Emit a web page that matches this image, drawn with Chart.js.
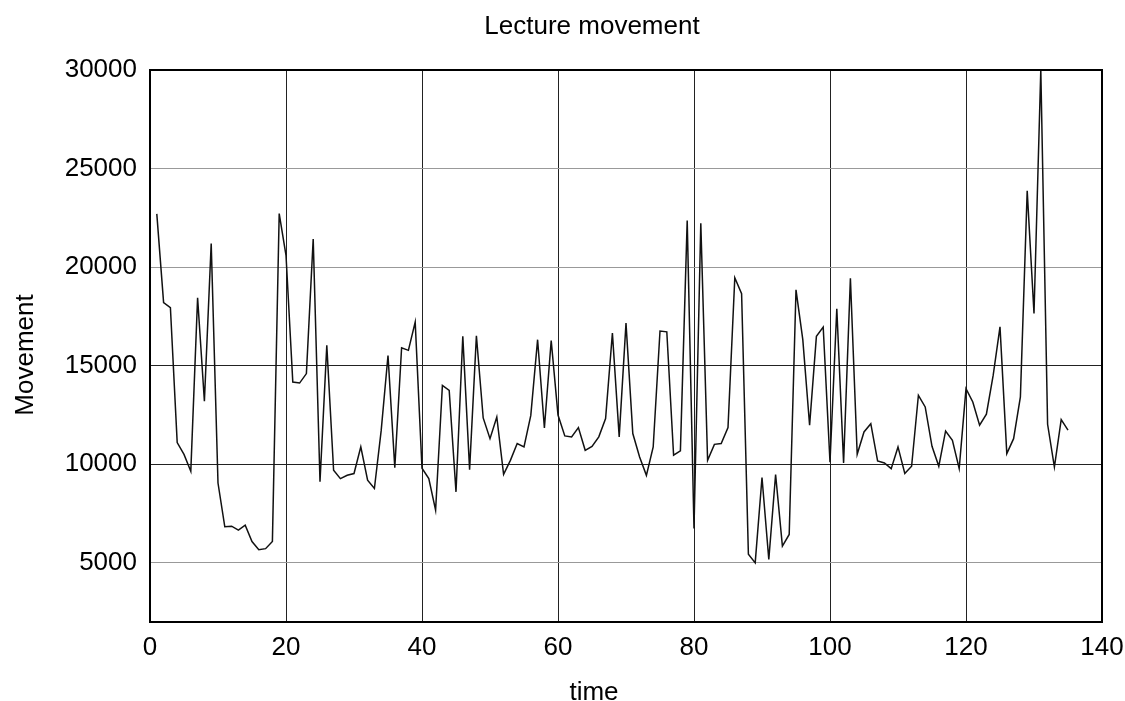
<!DOCTYPE html>
<html>
<head>
<meta charset="utf-8">
<title>Lecture movement</title>
<script src="https://cdn.jsdelivr.net/npm/chart.js@4.4.1/dist/chart.umd.min.js"></script>
<style>
  body { margin: 0; background: #fff; }
  #wrap { width: 1125px; height: 701px; }
</style>
</head>
<body>
<div id="wrap"><canvas id="myChart"></canvas></div>
<script>
// movement per time step (1..135)
const movement = [
  22700, 18200, 17950, 11100, 10500, 9650, 18450, 13200, 21200, 9050,
  6830, 6860, 6660, 6910, 6080, 5670, 5720, 6080, 22720, 20600,
  14170, 14120, 14600, 21430, 9110, 16030, 9700, 9270, 9440, 9530,
  10880, 9190, 8770, 11720, 15520, 9830, 15910, 15780, 17210, 9800,
  9275, 7670, 14000, 13750, 8600, 16490, 9730, 16520, 12350, 11300,
  12400, 9490, 10200, 11050, 10880, 12480, 16320, 11840, 16280, 12500,
  11440, 11390, 11860, 10710, 10910, 11390, 12320, 16660, 11390, 17160,
  11560, 10370, 9440, 10880, 16760, 16720, 10460, 10680, 22360, 6740,
  22230, 10200, 11010, 11050, 11860, 19460, 18650, 5440, 5000, 9330,
  5170, 9480, 5850, 6440, 18850, 16320, 11980, 16490, 16960, 10100,
  17890, 10070, 19440, 10510, 11640, 12060, 10170, 10070, 9780, 10880,
  9530, 9900, 13500, 12910, 10910, 9900, 11690, 11220, 9780, 13840,
  13160, 11980, 12540, 14520, 16970, 10540, 11300, 13420, 23870, 17650,
  30000, 12030, 9860, 12270, 11730
];
const time = movement.map((_, i) => i + 1);

const xTicks = [0, 20, 40, 60, 80, 100, 120, 140];
const yTicks = [5000, 10000, 15000, 20000, 25000, 30000];
const darkRows = [10000, 15000];

const font = 'Liberation Sans, Arial, Helvetica, sans-serif';

// frame around the plot + title texts placed like the original
const framePlugin = {
  id: 'frame',
  afterDraw(chart) {
    const c = chart.ctx;
    const a = chart.chartArea;
    c.save();
    c.strokeStyle = '#000';
    c.lineWidth = 2;
    c.strokeRect(a.left, a.top, a.right - a.left, a.bottom - a.top);
    c.fillStyle = '#000';
    c.font = '26px ' + font;
    c.textAlign = 'center';
    c.textBaseline = 'alphabetic';
    c.fillText('Lecture movement', 592, 34);
    c.fillText('time', 594, 700);
    c.translate(33, 355);
    c.rotate(-Math.PI / 2);
    c.fillText('Movement', 0, 0);
    c.restore();
  }
};

new Chart(document.getElementById('myChart'), {
  type: 'line',
  data: {
    labels: time,
    datasets: [{
      label: 'Movement',
      data: movement,
      borderColor: '#111',
      borderWidth: 1.5,
      pointRadius: 0,
      tension: 0,
      fill: false
    }]
  },
  options: {
    responsive: true,
    maintainAspectRatio: false,
    animation: false,
    layout: { padding: { top: 70, right: 23, bottom: 0, left: 0 } },
    plugins: {
      legend: { display: false },
      title: { display: false },
      tooltip: { enabled: false }
    },
    scales: {
      x: {
        type: 'linear',
        min: 0,
        max: 140,
        afterBuildTicks: s => { s.ticks = xTicks.map(v => ({ value: v })); },
        afterFit: s => { s.height = 79; s.paddingLeft = 0; s.paddingRight = 0; },
        grid: { color: '#222', lineWidth: 1, drawTicks: false },
        border: { display: false },
        ticks: { color: '#000', font: { family: font, size: 26 }, padding: 10, maxRotation: 0 }
      },
      y: {
        min: 2000,
        max: 30000,
        afterBuildTicks: s => { s.ticks = yTicks.map(v => ({ value: v })); },
        afterFit: s => { s.width = 150; },
        grid: {
          color: c => darkRows.includes(c.tick && c.tick.value) ? '#222' : '#999',
          lineWidth: 1,
          drawTicks: false
        },
        border: { display: false },
        ticks: {
          color: '#000',
          font: { family: font, size: 26 },
          padding: 13,
          callback: v => String(v)
        }
      }
    }
  },
  plugins: [framePlugin]
});
</script>
</body>
</html>
